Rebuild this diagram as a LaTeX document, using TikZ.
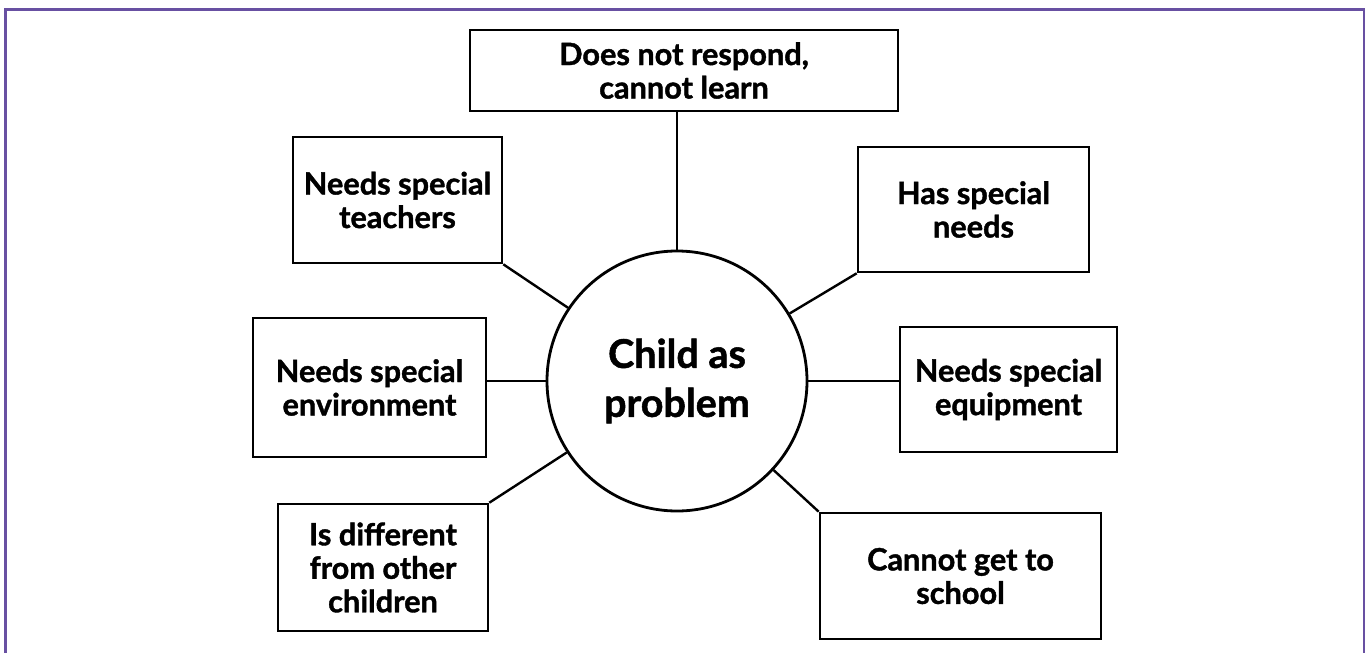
\documentclass[tikz,border=0pt]{standalone}
\usepackage{fontspec}
\setmainfont{Lato}[BoldFeatures={FakeBold=1.3}]
\definecolor{framepurple}{RGB}{104,80,162}
\begin{document}
\begin{tikzpicture}[x=1pt,y=-1pt,
  box/.style={draw=black,line width=2.6pt,fill=white,align=center,
    inner sep=0pt,font=\fontsize{30.7}{33.5}\selectfont\bfseries},
  hub/.style={draw=black,line width=2.8pt,circle,minimum size=260pt,
    inner sep=0pt,align=center,font=\fontsize{39.5}{49}\selectfont\bfseries},
  link/.style={draw=black,line width=2.4pt}]
\useasboundingbox (0,0) rectangle (1371,653);
% open frame
\draw[framepurple,line width=2.8pt] (5.5,654) -- (5.5,9.2) -- (1364,9.2) -- (1364,654);

% central circle
\node[hub] (c) at (677,381) {Child as\\problem};

% surrounding boxes
\node[box,minimum width=428pt,minimum height=81pt] (top) at (684,70.5) {Does not respond,\\cannot learn};
\node[box,minimum width=209pt,minimum height=126pt] (tea) at (397.5,200) {Needs special\\teachers};
\node[box,minimum width=231pt,minimum height=125pt] (has) at (973.5,209.5) {Has special\\needs};
\node[box,minimum width=233pt,minimum height=139pt] (env) at (369.5,387.5) {Needs special\\environment};
\node[box,minimum width=217pt,minimum height=125pt] (equ) at (1008.5,389.5) {Needs special\\equipment};
\node[box,minimum width=210pt,minimum height=127pt] (dif) at (383,567.5) {Is different\\from other\\children};
\node[box,minimum width=281pt,minimum height=126pt] (sch) at (960.5,576) {Cannot get to\\school};

% spokes
\draw[link] (c.north) -- (c.north |- top.south);
\draw[link] (tea.south east) -- (c);
\draw[link] (has.south west) -- (c);
\draw[link] (c.west) -- (c.west -| env.east);
\draw[link] (c.east) -- (c.east -| equ.west);
\draw[link] (dif.north east) -- (c);
\draw[link] (sch.north west) -- (c);
\end{tikzpicture}
\end{document}
